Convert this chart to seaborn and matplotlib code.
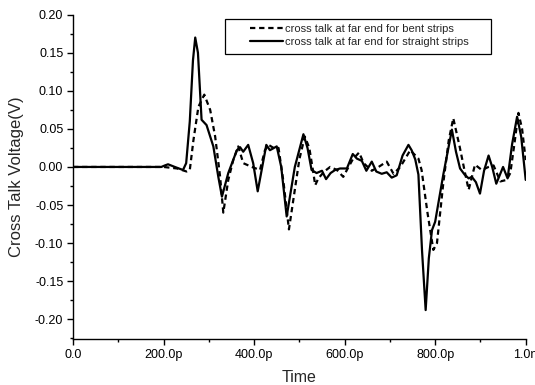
import numpy as np
import pandas as pd
import matplotlib
matplotlib.use("Agg")
import matplotlib.pyplot as plt
import seaborn as sns
from matplotlib.ticker import MultipleLocator, FixedLocator
from matplotlib.patches import Rectangle

# ---- data (time in ps, voltage in V) ----
t_straight = [0, 195, 203, 210, 225, 243, 250, 258, 265, 270, 276, 284, 295, 310, 321,
              329, 343, 362, 369, 376, 387, 398, 408, 418, 427, 435, 450, 460, 472, 490,
              509, 518, 527, 538, 550, 559, 569, 579, 590, 605, 618, 627, 638, 648, 660,
              670, 682, 693, 704, 715, 728, 741, 748, 756, 763, 771, 779, 786, 793, 800,
              818, 837, 846, 855, 865, 874, 881, 890, 899, 908, 918, 926, 935, 950, 960,
              970, 981, 990, 1000]
v_straight = [0.0, 0.0, 0.002, 0.0035, 0.0, -0.004, 0.005, 0.06, 0.14, 0.170, 0.15, 0.062,
              0.055, 0.027, -0.013, -0.039, -0.008, 0.022, 0.026, 0.020, 0.029, 0.005, -0.032,
              0.0, 0.029, 0.022, 0.027, 0.0, -0.065, 0.0, 0.043, 0.025, -0.004, -0.008,
              -0.005, -0.016, -0.008, -0.004, -0.002, -0.002, 0.017, 0.011, 0.008, -0.005,
              0.007, -0.006, -0.009, -0.007, -0.014, -0.011, 0.015, 0.029, 0.022, 0.010,
              -0.010, -0.110, -0.188, -0.120, -0.083, -0.072, -0.010, 0.049, 0.020, -0.002,
              -0.010, -0.015, -0.013, -0.020, -0.035, -0.005, 0.015, 0.000, -0.022, 0.000,
              -0.015, 0.030, 0.066, 0.040, -0.017]

t_bent = [0, 200, 230, 251, 258, 266, 277, 290, 303, 314, 325, 332, 343, 354, 365, 376,
          395, 413, 424, 432, 443, 454, 465, 477, 490, 500, 512, 522, 531, 535, 542, 555,
          568, 583, 597, 605, 618, 632, 642, 660, 675, 693, 708, 723, 745, 763, 770, 783,
          796, 804, 818, 830, 840, 854, 866, 874, 888, 903, 918, 929, 944, 958, 966, 975,
          984, 992, 1000]
v_bent = [0.0, 0.0, -0.002, -0.006, -0.004, 0.035, 0.079, 0.095, 0.075, 0.040, -0.013,
          -0.060, -0.017, 0.009, 0.027, 0.005, 0.000, -0.004, 0.022, 0.029, 0.025, 0.025,
          -0.020, -0.082, -0.030, 0.010, 0.040, 0.025, -0.008, -0.024, -0.015, -0.006,
          0.000, -0.004, -0.013, -0.004, 0.010, 0.019, 0.005, -0.005, 0.000, 0.007, -0.009,
          0.000, 0.022, 0.011, -0.004, -0.060, -0.109, -0.100, -0.021, 0.035, 0.064, 0.027,
          -0.008, -0.030, 0.003, -0.004, 0.000, 0.002, -0.019, -0.017, -0.008, 0.030,
          0.071, 0.050, 0.009]

label_bent = "cross talk at far end for bent strips"
label_straight = "cross talk at far end for straight strips"

x_ticks = [0, 200, 400, 600, 800, 1000]
x_tick_labels = ["0.0", "200.0p", "400.0p", "600.0p", "800.0p", "1.0n"]
y_ticks = [-0.20, -0.15, -0.10, -0.05, 0.00, 0.05, 0.10, 0.15, 0.20]

df_b = pd.DataFrame({"t": t_bent, "v": v_bent})
df_s = pd.DataFrame({"t": t_straight, "v": v_straight})

sns.set_style("ticks")
plt.rcParams["font.family"] = ["Liberation Sans", "DejaVu Sans"]

W, H = 535, 385
fig = plt.figure(figsize=(W / 100, H / 100), dpi=100)
ax = fig.add_axes([73 / W, 1 - 339 / H, (525.7 - 73) / W, (339 - 14.7) / H])

sns.lineplot(data=df_b, x="t", y="v", ax=ax, color="black", lw=1.6,
             linestyle=(0, (2.4, 1.7)), label=label_bent)
sns.lineplot(data=df_s, x="t", y="v", ax=ax, color="black", lw=1.6,
             linestyle="-", label=label_straight)

ax.set_xlim(0, 1000)
ax.set_ylim(-0.226, 0.20)
ax.xaxis.set_major_locator(FixedLocator(x_ticks))
ax.set_xticklabels(x_tick_labels)
ax.xaxis.set_minor_locator(MultipleLocator(100))
ax.yaxis.set_major_locator(FixedLocator(y_ticks))
ax.set_yticklabels([f"{v:.2f}" for v in y_ticks])
ax.yaxis.set_minor_locator(MultipleLocator(0.025))

for s in ["top", "right"]:
    ax.spines[s].set_visible(False)
for s in ["left", "bottom"]:
    ax.spines[s].set_linewidth(1.0)
    ax.spines[s].set_color("black")

ax.tick_params(axis="both", which="major", direction="out", length=4, width=1,
               labelsize=9, colors="black", pad=3)
ax.tick_params(axis="both", which="minor", direction="out", length=2.5, width=1,
               colors="black")

ax.set_xlabel("Time", fontsize=11.5, labelpad=7)
ax.set_ylabel("Cross Talk Voltage(V)", fontsize=12, labelpad=7.5)

leg = ax.legend(loc="upper left", bbox_to_anchor=((250 - 73) / (525.7 - 73), (339 - 23.5) / (339 - 14.7)),
                fontsize=8, frameon=False, borderpad=0.0, handlelength=3.0,
                handletextpad=0.15, labelspacing=0.3, borderaxespad=0)

# legend frame drawn as a box in figure pixels
fig.patches.append(Rectangle((225 / W, 1 - 54 / H), (491 - 225) / W, (54 - 18.7) / H,
                             transform=fig.transFigure, fill=False, edgecolor="black",
                             linewidth=0.9, zorder=5))

fig.savefig("out.png", dpi=100)
